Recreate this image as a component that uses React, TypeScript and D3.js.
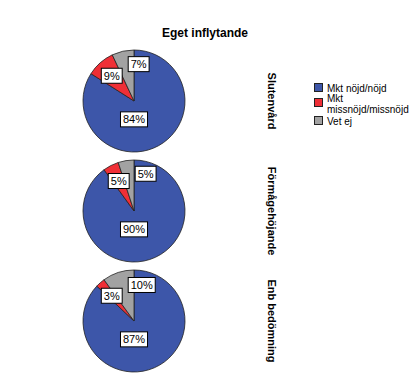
import React, { useEffect, useRef } from "react";
import * as d3 from "d3";

const title = "Eget inflytande";
const groups = ["Slutenvård", "Förmågehöjande", "Enb bedömning"];
const seriesNames = ["Mkt nöjd/nöjd", "Mkt missnöjd/missnöjd", "Vet ej"];
const legendLines = [["Mkt nöjd/nöjd"], ["Mkt", "missnöjd/missnöjd"], ["Vet ej"]];
const satisfied = [84, 90, 87];
const dissatisfied = [9, 5, 3];
const dontKnow = [7, 5, 10];
const colors = ["#3d56a9", "#ef2f36", "#a2a2a2"];

const W = 420;
const H = 377;
const FONT = "'Liberation Sans', Arial, sans-serif";

export default function App() {
  const ref = useRef<SVGSVGElement>(null);

  useEffect(() => {
    const svg = d3.select(ref.current);
    svg.selectAll("*").remove();

    svg
      .append("text")
      .attr("x", 205)
      .attr("y", 37)
      .attr("text-anchor", "middle")
      .attr("font-family", FONT)
      .attr("font-weight", "bold")
      .attr("font-size", 12)
      .text(title);

    const y = d3.scaleBand<string>().domain(groups).range([46, 376]).padding(0);
    const r = 51;
    const cx = 134;
    const pie = d3
      .pie<number>()
      .sort(null)
      .value((d) => d);
    const arc = d3.arc<d3.PieArcDatum<number>>().innerRadius(0).outerRadius(r);
    const labelArc = d3.arc<d3.PieArcDatum<number>>().innerRadius(r * 0.66).outerRadius(r * 0.66);

    groups.forEach((g, gi) => {
      const vals = [satisfied[gi], dissatisfied[gi], dontKnow[gi]];
      const cy = (y(g) as number) + y.bandwidth() / 2;
      const gg = svg.append("g").attr("transform", `translate(${cx},${cy})`);
      const arcs = pie(vals);
      gg.selectAll("path.slice")
        .data(arcs)
        .enter()
        .append("path")
        .attr("class", "slice")
        .attr("d", arc as any)
        .attr("fill", (_d, i) => colors[i])
        .attr("stroke", "#222")
        .attr("stroke-width", 0.8);

      const total = d3.sum(vals);
      const boxes: { x0: number; x1: number; y0: number; y1: number }[] = [];
      arcs.forEach((a, i) => {
        const frac = a.value / total;
        let [lx, ly] = frac > 0.5 ? [0, r * 0.36] : labelArc.centroid(a);
        const t = gg
          .append("text")
          .attr("font-family", FONT)
          .attr("font-size", 11)
          .attr("text-anchor", "middle")
          .text(`${a.value}%`);
        const tw = (t.node() as SVGTextElement).getComputedTextLength();
        const bw = tw + 5;
        const bh = 15;
        let x0 = lx - bw / 2;
        let y0 = ly - bh / 2;
        const prev = boxes[boxes.length - 1];
        if (prev && frac <= 0.5 && x0 < prev.x1 && x0 + bw > prev.x0 && y0 < prev.y1 && y0 + bh > prev.y0) {
          x0 = prev.x1 + 6;
          y0 = y0 - 4;
        }
        boxes.push({ x0, x1: x0 + bw, y0, y1: y0 + bh });
        gg.insert("rect", "text:last-of-type")
          .attr("x", x0)
          .attr("y", y0)
          .attr("width", bw)
          .attr("height", bh)
          .attr("fill", "#fff")
          .attr("stroke", "#000")
          .attr("stroke-width", 1);
        t.attr("x", x0 + bw / 2).attr("y", y0 + bh / 2 + 4);
        t.raise();
      });

      svg
        .append("text")
        .attr("transform", `translate(268,${cy}) rotate(90)`)
        .attr("text-anchor", "middle")
        .attr("font-family", FONT)
        .attr("font-weight", "bold")
        .attr("font-size", 11)
        .text(g);
    });

    const legendTops = [83, 98, 116];
    const lg = svg.append("g");
    seriesNames.forEach((s, i) => {
      lg.append("rect")
        .attr("x", 314.5)
        .attr("y", legendTops[i] + 0.5)
        .attr("width", 8)
        .attr("height", 8)
        .attr("fill", colors[i])
        .attr("stroke", "#222")
        .attr("stroke-width", 1);
      const lines = legendLines[i];
      lines.forEach((ln, li) => {
        lg.append("text")
          .attr("x", 327)
          .attr("y", legendTops[i] + 8.5 + (lines.length > 1 ? (li - 1) * 10.5 + 6 : 0))
          .attr("font-family", FONT)
          .attr("font-size", 10)
          .text(ln);
      });
    });
  }, []);

  return <svg ref={ref} width={W} height={H} style={{ display: "block", position: "absolute", left: 0, top: 0 }} />;
}
